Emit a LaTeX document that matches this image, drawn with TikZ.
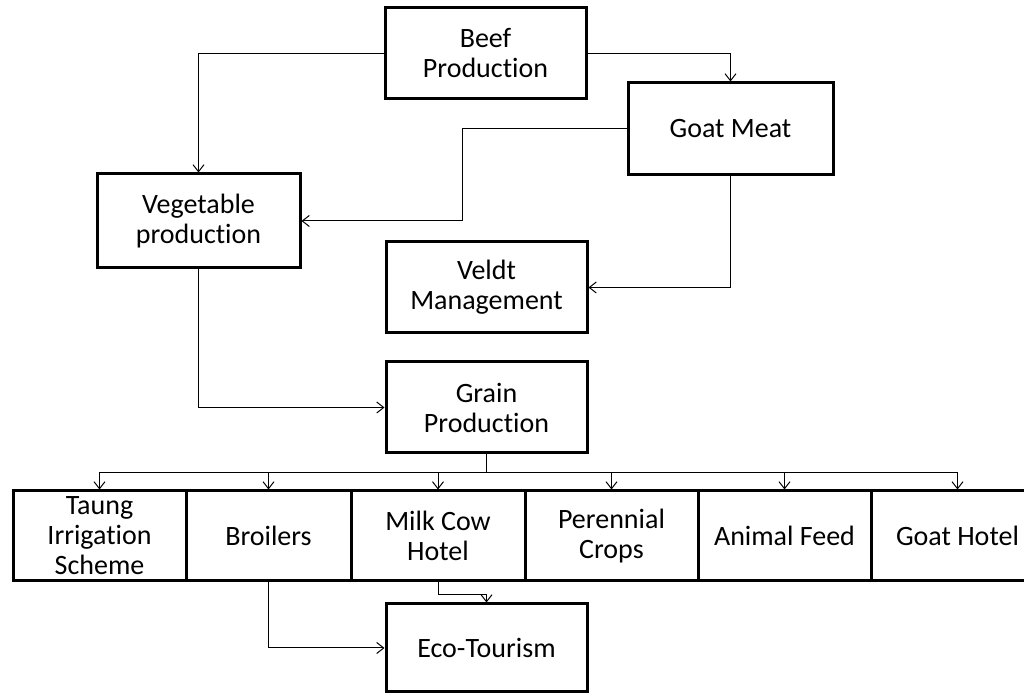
\documentclass[tikz,border=0pt]{standalone}
\usepackage{fontspec}
\setmainfont{Carlito}[Ligatures=NoCommon]
\usetikzlibrary{arrows.meta}
\begin{document}
\begin{tikzpicture}[x=0.5pt,y=-0.5pt,>={Straight Barb[length=3.5pt,width=5.5pt]},
    box/.style={draw,line width=1.5pt,inner sep=0pt,align=center,
      minimum width=100.5pt,minimum height=45.5pt,font=\fontsize{14}{15}\selectfont},
    rowbox/.style={box,minimum width=86.5pt,minimum height=45pt},
    link/.style={->,line width=0.5pt}]
    \useasboundingbox (0,0) rectangle (1024,694);
    % upper part
    \node[box] (beef) at (485.5,53.5) {Beef\\Production};
    \node[box,minimum width=102.5pt,minimum height=46pt] (goat) at (730.5,129) {Goat Meat};
    \node[box,minimum width=101.5pt,minimum height=47pt] (veg) at (198.5,221) {Vegetable\\production};
    \node[box] (veldt) at (486.5,287.5) {Veldt\\Management};
    \node[box] (grain) at (486.5,407.5) {Grain\\Production};
    % row of projects
    \node[rowbox] (taung) at (99.5,536) {Taung\\Irrigation\\Scheme};
    \node[rowbox,minimum width=82.5pt] (broilers) at (268.5,536) {Broilers};
    \node[rowbox,minimum width=87pt] (milk) at (438,536) {Milk Cow\\Hotel};
    \node[rowbox] (crops) at (611.5,536) {Perennial\\Crops};
    \node[rowbox] (feed) at (784.5,536) {Animal Feed};
    \node[rowbox] (goathotel) at (957.5,536) {Goat Hotel};
    \node[box,minimum height=44pt] (eco) at (486.5,648) {Eco-Tourism};
    % connectors
    \draw[link] (beef.west) -| (veg.north);
    \draw[link] (beef.east) -| (goat.north);
    \draw[link] (goat.west) -- ++(-164,0) |- (veg.east);
    \draw[link] (goat.south) |- (veldt.east);
    \draw[link] (veg.south) |- (grain.west);
    \draw[line width=0.5pt] (grain.south) -- ++(0,18) coordinate (bus);
    \draw[line width=0.5pt] (bus -| taung.north) -- (bus -| goathotel.north);
    \foreach \n in {taung,broilers,milk,crops,feed,goathotel}
        \draw[link] (bus -| \n.north) -- (\n.north);
    \draw[link] (milk.south) -- ++(0,12) -| (eco.north);
    \draw[link] (broilers.south) |- (eco.west);
\end{tikzpicture}
\end{document}
